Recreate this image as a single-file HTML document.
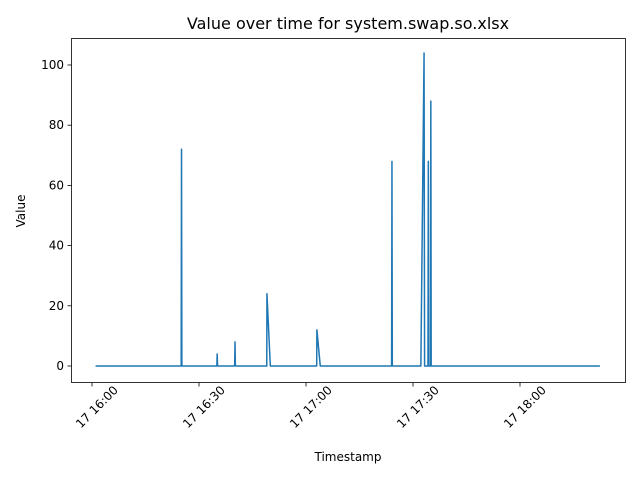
<!DOCTYPE html>
<html><head><meta charset="utf-8"><style>
body{margin:0;background:#fff;font-family:"Liberation Sans","DejaVu Sans",sans-serif}
svg text{font-family:"DejaVu Sans","Liberation Sans",sans-serif;fill:#000}
</style></head><body>
<svg id="chart" width="640" height="480" viewBox="0 0 640 480" xmlns="http://www.w3.org/2000/svg">
<rect width="640" height="480" fill="#fff"/>
<text x="348" y="29" font-size="16" text-anchor="middle">Value over time for system.swap.so.xlsx</text>
<g id="grid"></g>
<path id="series" fill="none" stroke="#1f77b4" stroke-width="1.5" stroke-linejoin="round"/>
<rect x="71.5" y="38.5" width="554" height="344" fill="none" stroke="#000" stroke-width="0.8"/>
<text x="348" y="461" font-size="12" text-anchor="middle">Timestamp</text>
<text x="25" y="211" font-size="12" text-anchor="middle" transform="rotate(-90 25 211)">Value</text>
</svg>
<script>
// minutes after 16:00
const times = [1,25,25.1,25.2,35,35.1,35.2,40,40.1,40.2,49,49.05,50,63,63.05,64,84,84.1,84.2,92.2,93.1,93.25,94.2,94.3,94.4,94.9,95.0,95.1,142.4];
const values = [0,0,72,0,0,4,0,0,8,0,0,24,0,0,12,0,0,68,0,0,104,0,0,68,0,0,88,0,0];
const yTicks = [0,20,40,60,80,100];
const xTickMinutes = [0,30,60,90,120];
const xTickLabels = ["17 16:00","17 16:30","17 17:00","17 17:30","17 18:00"];
const xs = m => 92 + m * (107/30);
const ys = v => 366 - v * 3.01;
const NS = 'http://www.w3.org/2000/svg';
const g = document.getElementById('grid');
yTicks.forEach(v => {
  const y = ys(v);
  const l = document.createElementNS(NS,'line');
  
  
  l.setAttribute('x1',71.5);l.setAttribute('x2',67.5);l.setAttribute('y1',y);l.setAttribute('y2',y);
  l.setAttribute('stroke','#000');l.setAttribute('stroke-width','0.8');
  g.appendChild(l);
  const t = document.createElementNS(NS,'text');
  
  
  t.setAttribute('x',64);t.setAttribute('y',y+4);t.setAttribute('font-size','12');t.setAttribute('text-anchor','end');
  t.textContent = v;
  g.appendChild(t);
});
xTickMinutes.forEach((m,i) => {
  const x = xs(m);
  const l = document.createElementNS(NS,'line');
  
  
  l.setAttribute('x1',x);l.setAttribute('x2',x);l.setAttribute('y1',382.5);l.setAttribute('y2',386.5);
  l.setAttribute('stroke','#000');l.setAttribute('stroke-width','0.8');
  g.appendChild(l);
  const t = document.createElementNS(NS,'text');
  
  
  t.setAttribute('font-size','12');t.setAttribute('text-anchor','middle');
  t.setAttribute('transform',`translate(${x+5},${407}) rotate(-45) translate(0,4)`);
  t.textContent = xTickLabels[i];
  g.appendChild(t);
});
document.getElementById('series').setAttribute('d', times.map((m,i)=>(i?'L':'M')+xs(m).toFixed(2)+','+ys(values[i]).toFixed(2)).join(''));
</script>
</body></html>
